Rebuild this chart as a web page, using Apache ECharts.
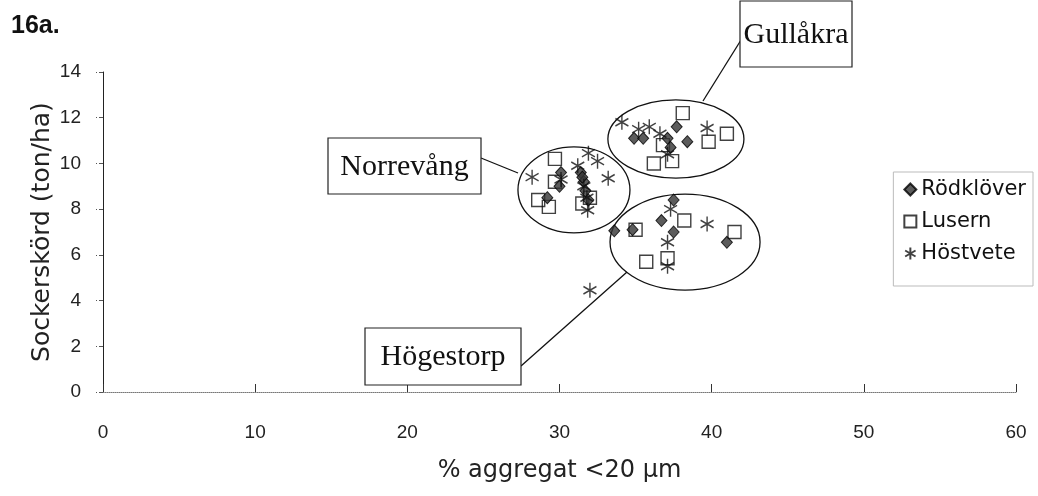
<!DOCTYPE html>
<html>
<head>
<meta charset="utf-8">
<script src="https://cdn.jsdelivr.net/npm/echarts@6/dist/echarts.min.js"></script>
<style>html,body{margin:0;padding:0;background:#fff;}#c{width:1038px;height:496px;}</style>
</head>
<body>
<div id="c"></div>
<script>
// ---- Data ----
var xTicks = [0, 10, 20, 30, 40, 50, 60];
var yTicks = [0, 2, 4, 6, 8, 10, 12, 14];
var seriesNames = ['Rödklöver', 'Lusern', 'Höstvete'];

// [aggregat %, sockerskörd ton/ha]
var rodklover = [
  // Norrevång
  [29.2, 8.5], [30.1, 9.6], [30.0, 9.0], [31.4, 9.6], [31.6, 9.2], [31.7, 8.8], [31.9, 8.4], [31.5, 9.4],
  // Gullåkra
  [34.9, 11.1], [35.5, 11.1], [37.7, 11.6], [37.1, 11.1], [37.3, 10.7], [38.4, 10.95],
  // Högestorp
  [33.6, 7.05], [34.8, 7.1], [36.7, 7.5], [37.5, 7.0], [37.5, 8.4], [41.0, 6.55]
];
var lusern = [
  // Norrevång
  [29.7, 10.2], [29.7, 9.2], [28.6, 8.4], [29.3, 8.1], [32.0, 8.5], [31.5, 8.25],
  // Gullåkra
  [38.1, 12.2], [36.8, 10.8], [36.2, 10.0], [37.4, 10.1], [39.8, 10.95], [41.0, 11.3],
  // Högestorp
  [35.0, 7.1], [38.2, 7.5], [35.7, 5.7], [37.1, 5.85], [41.5, 7.0]
];
var hostvete = [
  // Norrevång
  [28.2, 9.4], [30.1, 9.3], [31.2, 9.9], [31.9, 10.45], [32.5, 10.1], [33.2, 9.35], [31.6, 9.0], [31.8, 8.5], [31.85, 7.95],
  // Gullåkra
  [34.1, 11.8], [35.2, 11.5], [35.9, 11.6], [36.6, 11.3], [39.7, 11.55], [37.1, 10.4],
  // Högestorp
  [37.3, 8.0], [39.7, 7.35], [37.1, 6.55], [37.1, 5.5], [32.0, 4.45]
];

// Site annotations (ellipse in data units: cx, cy, rx, ry)
var siteNames = ['Norrevång', 'Gullåkra', 'Högestorp'];
var siteEllipse = [[30.95, 8.84, 3.68, 1.88], [37.65, 11.07, 4.47, 1.71], [38.25, 6.56, 4.93, 2.1]];

var chart = echarts.init(document.getElementById('c'));
var asterisk = 'path://M0,-10L0,10M-8.66,-5L8.66,5M-8.66,5L8.66,-5';
var FONT = 'Liberation Sans';
var WIDE = 'DejaVu Sans';

var option = {
  animation: false,
  backgroundColor: '#fff',
  title: {
    text: '16a.', left: 6, top: 9,
    textStyle: { fontFamily: FONT, fontWeight: 'bold', fontSize: 25, color: '#111' }
  },
  grid: { left: 103, right: 22, top: 72, bottom: 104, containLabel: false },
  legend: {
    orient: 'vertical', right: 5, top: 172,
    itemGap: 11, itemWidth: 12, itemHeight: 12,
    padding: [7, 7, 22, 10],
    borderColor: '#bbb', borderWidth: 1,
    textStyle: { fontFamily: WIDE, fontSize: 21, color: '#111' },
    data: seriesNames
  },
  xAxis: {
    type: 'value', min: 0, max: 60, interval: 10,
    name: '% aggregat <20 μm', nameLocation: 'middle', nameGap: 67, nameMoveOverlap: false,
    nameTextStyle: { fontFamily: WIDE, fontSize: 24, color: '#222' },
    axisLine: { lineStyle: { color: '#777', type: 'dotted', width: 1 } },
    axisTick: { inside: true, length: 8, lineStyle: { color: '#333' } },
    axisLabel: { margin: 31, fontFamily: FONT, fontSize: 19, color: '#222' },
    splitLine: { show: false }
  },
  yAxis: {
    type: 'value', min: 0, max: 14, interval: 2,
    name: 'Sockerskörd (ton/ha)', nameLocation: 'middle', nameGap: 48, nameMoveOverlap: false,
    nameTextStyle: { fontFamily: WIDE, fontSize: 25, color: '#222' },
    axisLine: { show: true, lineStyle: { color: '#222', width: 1 } },
    axisTick: { show: true, inside: false, length: 7, lineStyle: { color: '#555', type: 'dashed' } },
    axisLabel: { margin: 22, fontFamily: FONT, fontSize: 19, color: '#222' },
    splitLine: { show: false }
  },
  series: [
    {
      name: seriesNames[0], type: 'scatter', data: rodklover,
      symbol: 'diamond', symbolSize: [11, 12],
      itemStyle: { color: '#333', borderColor: '#000', borderWidth: 1 }, z: 3
    },
    {
      name: seriesNames[1], type: 'scatter', data: lusern,
      symbol: 'rect', symbolSize: 13,
      itemStyle: { color: 'rgba(255,255,255,0)', borderColor: '#111', borderWidth: 1.4 }, z: 2
    },
    {
      name: seriesNames[2], type: 'scatter', data: hostvete,
      symbol: asterisk, symbolSize: [13, 15],
      itemStyle: { color: 'rgba(0,0,0,0)', borderColor: '#111', borderWidth: 1.5 }, z: 4
    }
  ]
};
chart.setOption(option);

// Annotations: ellipses (from data coords) and callout boxes
var boxes = [
  { x: 328, y: 138, w: 153, h: 56, lx1: 481, ly1: 158, lx2: 518, ly2: 173 },
  { x: 740, y: 1, w: 112, h: 66, lx1: 741, ly1: 40, lx2: 703, ly2: 101 },
  { x: 365, y: 328, w: 156, h: 57, lx1: 521, ly1: 366, lx2: 627, ly2: 272 }
];
var graphics = [];
for (var i = 0; i < siteNames.length; i++) {
  var e = siteEllipse[i];
  var c = chart.convertToPixel({ gridIndex: 0 }, [e[0], e[1]]);
  var r = chart.convertToPixel({ gridIndex: 0 }, [e[0] + e[2], e[1] + e[3]]);
  graphics.push({
    type: 'ellipse', silent: true, z: 1,
    shape: { cx: c[0], cy: c[1], rx: Math.abs(r[0] - c[0]), ry: Math.abs(c[1] - r[1]) },
    style: { fill: 'none', stroke: '#111', lineWidth: 1.3 }
  });
  var b = boxes[i];
  graphics.push({
    type: 'line', silent: true, z: 1,
    shape: { x1: b.lx1, y1: b.ly1, x2: b.lx2, y2: b.ly2 },
    style: { stroke: '#111', lineWidth: 1.3 }
  });
  graphics.push({
    type: 'rect', silent: true, z: 5,
    shape: { x: b.x, y: b.y, width: b.w, height: b.h },
    style: { fill: '#fff', stroke: '#222', lineWidth: 1.2 }
  });
  graphics.push({
    type: 'text', silent: true, z: 6,
    x: b.x + b.w / 2, y: b.y + b.h / 2 + 1,
    style: { text: siteNames[i], fontFamily: 'Liberation Serif', fontSize: 30, fill: '#111', align: 'center', verticalAlign: 'middle' }
  });
}
chart.setOption({ graphic: graphics });
</script>
</body>
</html>
